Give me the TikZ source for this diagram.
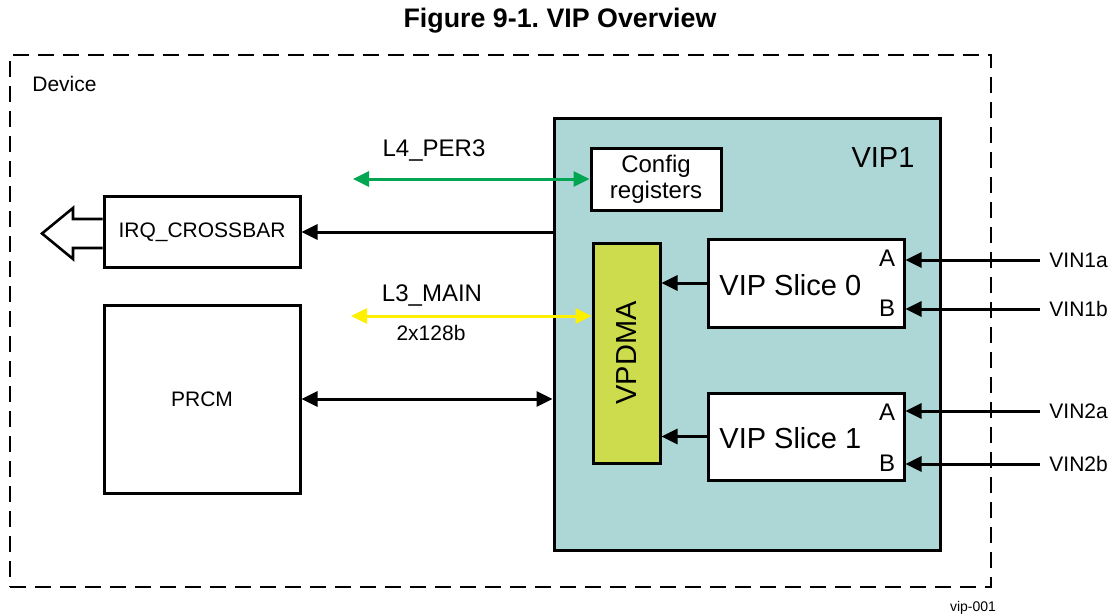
\documentclass[tikz,border=0pt]{standalone}
\usepackage{fontspec}
\setmainfont{Liberation Sans}
\usetikzlibrary{arrows.meta}

\definecolor{vipteal}{RGB}{173,214,214}
\definecolor{dmagreen}{RGB}{204,220,76}
\definecolor{perigreen}{RGB}{0,166,81}
\definecolor{mainyellow}{RGB}{255,240,0}

\tikzset{
  blk/.style={draw, line width=1.5pt, fill=white, inner sep=0pt, align=center},
  lbl/.style={inner sep=0pt, align=center},
  arr/.style={line width=1.5pt, -{Triangle[length=8pt,width=7.5pt]}},
  darr/.style={line width=1.5pt, {Triangle[length=8pt,width=7.5pt]}-{Triangle[length=8pt,width=7.5pt]}},
  fsmall/.style={font=\fontsize{10.5}{12.5}\selectfont},
  fmid/.style={font=\fontsize{12}{13}\selectfont},
  fbig/.style={font=\fontsize{14.5}{17}\selectfont},
}

\begin{document}
\begin{tikzpicture}[x=0.5pt, y=-0.5pt]
  \useasboundingbox (0,0) rectangle (1112,615);

  % title
  \node[lbl, font=\bfseries\fontsize{13.4}{16}\selectfont] (title) at (560,21) {Figure 9-1.\ VIP Overview};

  % device
  \node[draw, line width=1pt, dash pattern=on 8pt off 4.5pt, minimum width=490.5pt, minimum height=266pt] (device) at (500.5,321) {};
  \node[lbl, fsmall, anchor=west] (devlbl) at (32,84) {Device};

  % VIP1
  \node[blk, fill=vipteal, minimum width=193pt, minimum height=216pt] (vip1) at (747,334) {};
  \node[lbl, fbig] (viplbl) at (883,158) {VIP1};
  \node[blk, fmid, minimum width=65pt, minimum height=31pt] (cfg) at (656,179) {Config\\registers};
  \node[blk, fill=dmagreen, minimum width=33.5pt, minimum height=110pt] (vpdma) at (626.5,353) {};
  \node[lbl, fbig, rotate=90] (dmalbl) at (vpdma.center) {VPDMA};
  \node[blk, minimum width=98pt, minimum height=44pt] (s0) at (806,283) {};
  \node[blk, minimum width=98pt, minimum height=43.5pt] (s1) at (806,436.5) {};
  \node[lbl, fbig, anchor=west] (s0lbl) at (719,285) {VIP Slice 0};
  \node[lbl, fbig, anchor=west] (s1lbl) at (719,438) {VIP Slice 1};
  \node[lbl, fmid] (s0a) at (887,258) {A};
  \node[lbl, fmid] (s0b) at (887,308) {B};
  \node[lbl, fmid] (s1a) at (887,412) {A};
  \node[lbl, fmid] (s1b) at (887,463) {B};

  % left blocks
  \node[blk, fsmall, minimum width=98pt, minimum height=35.5pt] (irq) at (202,232) {IRQ\_CROSSBAR};
  \node[blk, fsmall, minimum width=98pt, minimum height=94pt] (prcm) at (202,399) {PRCM};

  % hollow output arrow
  \draw[line width=1.3pt, fill=white] (irq.west |- 0,219) -- (73,219) -- (73,208) -- (42,233.5)
    -- (73,259) -- (73,248) -- (irq.west |- 0,248);

  % buses
  \coordinate (l4end) at (353,179);
  \draw[darr, perigreen] (l4end) -- (cfg.west);
  \node[lbl, fmid] (l4lbl) at (434,151) {L4\_PER3};
  \coordinate (l3end) at (351,316);
  \draw[darr, mainyellow] (l3end) -- (vpdma.west |- l3end);
  \node[lbl, fmid] (l3lbl) at (432,296) {L3\_MAIN};
  \node[lbl, fsmall] (l3w) at (431,333) {2x128b};

  \draw[arr] (vip1.west |- irq.east) -- (irq.east);
  \draw[darr] (prcm.east) -- (vip1.west |- prcm.east);
  \draw[arr] (s0.west) -- (vpdma.east |- s0.west);
  \draw[arr] (s1.west) -- (vpdma.east |- s1.west);

  % video inputs
  \foreach \vin/\y/\sl in {vin1a/260/s0, vin1b/309/s0, vin2a/411/s1, vin2b/464/s1}{
    \coordinate (\vin) at (1040,\y);
    \draw[arr] (\vin) -- (\sl.east |- \vin);
  }
  \node[lbl, fsmall, anchor=west] (vin1albl) at (1049,260) {VIN1a};
  \node[lbl, fsmall, anchor=west] (vin1blbl) at (1049,309) {VIN1b};
  \node[lbl, fsmall, anchor=west] (vin2albl) at (1049,411) {VIN2a};
  \node[lbl, fsmall, anchor=west] (vin2blbl) at (1049,464) {VIN2b};

  \node[lbl, font=\fontsize{7}{8}\selectfont] (figid) at (973,608) {vip-001};
\end{tikzpicture}
\end{document}
